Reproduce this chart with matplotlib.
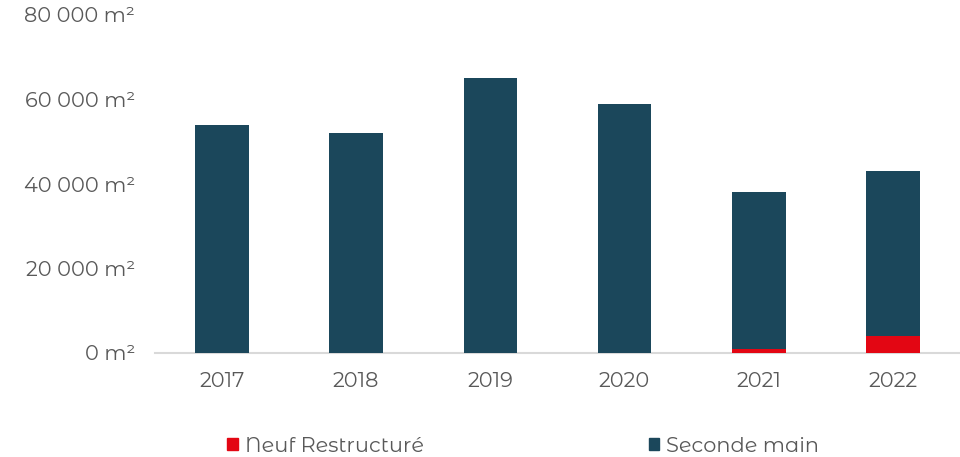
import matplotlib
matplotlib.use("Agg")
import matplotlib.pyplot as plt
from matplotlib.patches import Patch
from matplotlib.ticker import FuncFormatter

years = ["2017", "2018", "2019", "2020", "2021", "2022"]
neuf = [0, 0, 0, 0, 1000, 4000]
seconde = [54000, 52000, 65000, 59000, 37000, 39000]

c_neuf = "#e30613"
c_sec = "#1b475b"
txt = "#595959"

plt.rcParams['font.family'] = ['Montserrat Alternates', 'DejaVu Sans']
plt.rcParams['font.weight'] = 'normal'

fs = 15
fig = plt.figure(figsize=(9.6, 4.57), dpi=100)
ax = fig.add_axes([155/960, 1 - 353/457, (960 - 155)/960, (353 - 15)/457])

x = list(range(len(years)))
ax.bar(x, neuf, width=0.4, color=c_neuf, zorder=3)
ax.bar(x, seconde, width=0.4, bottom=neuf, color=c_sec, zorder=3)

ax.set_xlim(-0.5, len(years) - 0.5)
ax.set_ylim(0, 80000)
ax.set_yticks([0, 20000, 40000, 60000, 80000])
ax.yaxis.set_major_formatter(FuncFormatter(lambda v, p: f"{int(v):,}".replace(",", " ") + " m²"))
ax.set_xticks(x)
ax.set_xticklabels(years)
ax.tick_params(axis='both', length=0, labelsize=fs, colors=txt)
ax.tick_params(axis='y', pad=14.4)
ax.tick_params(axis='x', pad=14)
for s in ['top', 'right', 'left']:
    ax.spines[s].set_visible(False)
ax.spines['bottom'].set_color("#d9d9d9")
ax.spines['bottom'].set_linewidth(1.5)

handles = [Patch(color=c_neuf, label="Neuf Restructuré"), Patch(color=c_sec, label="Seconde main")]
fig.legend(handles=handles, loc='center', bbox_to_anchor=(0.545, 1 - 446/457), ncol=2,
           frameon=False, fontsize=fs, labelcolor=txt, handlelength=0.5, handleheight=0.5,
           handletextpad=0.34, columnspacing=10.8, borderpad=0)

fig.savefig("out.png", dpi=100)
